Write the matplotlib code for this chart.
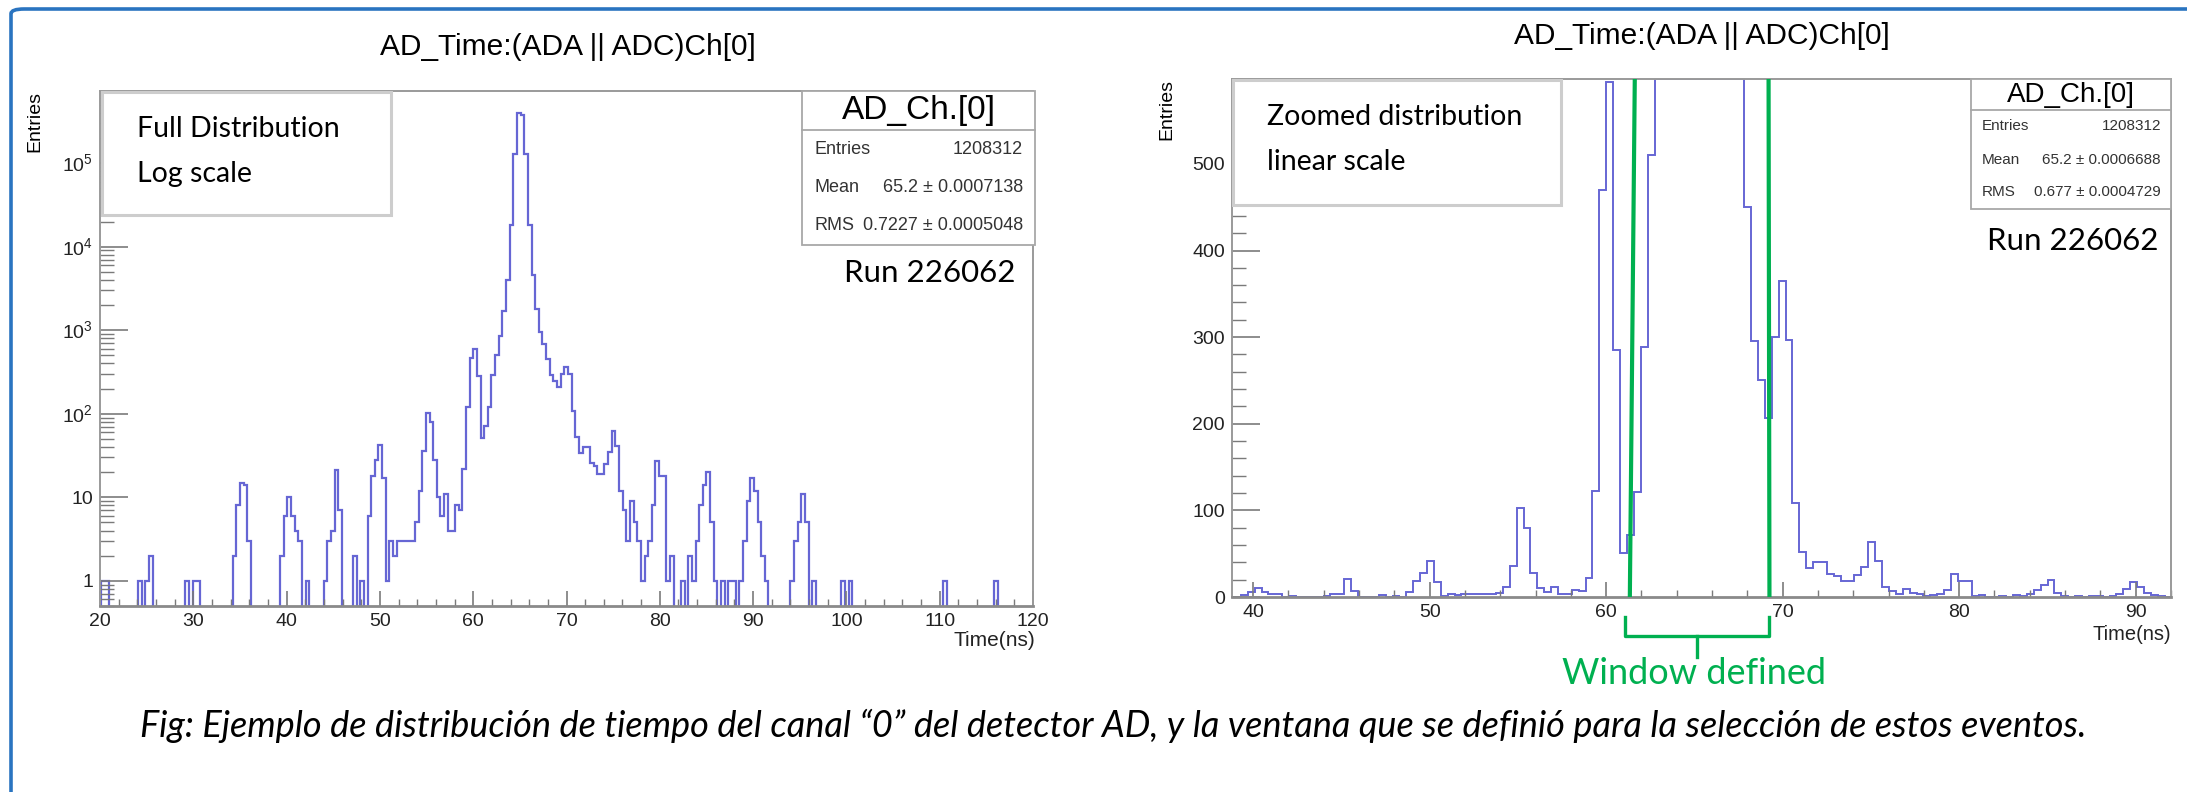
# AD channel 0 time distribution: full range (log) and zoomed window (linear)

import numpy as np
import matplotlib
matplotlib.use('Agg')
import matplotlib.pyplot as plt
from matplotlib.patches import Rectangle, FancyBboxPatch
from matplotlib.lines import Line2D
from matplotlib.ticker import FixedLocator, MultipleLocator, LogLocator, NullFormatter

plt.rcParams['font.family'] = ['Liberation Sans', 'DejaVu Sans']
plt.rcParams['mathtext.fontset'] = 'custom'
plt.rcParams['mathtext.rm'] = 'Liberation Sans'

# ---- data: AD time histogram, bin width 25/64 ns ----
bin_start = 19.77
bin_width = 0.390625
counts = [
    0, 1, 1, 0, 0, 0, 0, 0, 0, 0,
    0, 1, 0, 1, 2, 0, 0, 0, 0, 0,
    0, 0, 0, 0, 1, 0, 1, 1, 0, 0,
    0, 0, 0, 0, 0, 0, 0, 2, 8, 15,
    14, 3, 0, 0, 0, 0, 0, 0, 0, 0,
    2, 6, 10, 6, 4, 3, 0, 1, 0, 0,
    0, 0, 1, 3, 4, 21, 7, 0, 0, 0,
    2, 0, 1, 0, 6, 18, 28, 42, 17, 1,
    3, 2, 3, 3, 3, 3, 3, 5, 12, 36,
    103, 80, 28, 10, 6, 11, 4, 4, 8, 7,
    22, 122, 470, 595, 285, 51, 71, 121, 289, 510,
    850, 1700, 4000, 18000, 130000, 400000, 380000, 130000, 18000, 4600,
    1800, 940, 675, 450, 295, 250, 207, 300, 365, 297,
    108, 52, 34, 40, 40, 26, 24, 19, 19, 25,
    35, 63, 41, 12, 7, 3, 9, 5, 3, 1,
    2, 3, 8, 27, 18, 18, 1, 2, 0, 0,
    1, 0, 2, 1, 3, 8, 14, 20, 5, 1,
    0, 1, 0, 1, 1, 0, 1, 3, 9, 17,
    12, 5, 2, 1, 0, 0, 0, 0, 0, 0,
    1, 3, 5, 11, 5, 0, 1, 0, 0, 0,
    0, 0, 0, 0, 1, 0, 1, 0, 0, 0,
    0, 0, 0, 0, 0, 0, 0, 0, 0, 0,
    0, 0, 0, 0, 0, 0, 0, 0, 0, 0,
    0, 0, 1, 0, 0, 0, 0, 0, 0, 0,
    0, 0, 0, 0, 0, 0, 1, 0, 0, 0,
    0, 0, 0, 0, 0, 0, 0, 0,
]
counts = np.array(counts, dtype=float)
edges = bin_start + bin_width * np.arange(len(counts) + 1)

window_lo = [61.62, 61.34]   # slanted hand-drawn line (top, bottom)
window_hi = [69.20, 69.25]

title = 'AD_Time:(ADA || ADC)Ch[0]'
stats_left = [('Entries', '1208312'), ('Mean', '65.2 \u00b1 0.0007138'), ('RMS', '0.7227 \u00b1 0.0005048')]
stats_right = [('Entries', '1208312'), ('Mean', '65.2 \u00b1 0.0006688'), ('RMS', '0.677 \u00b1 0.0004729')]
caption = ('Fig: Ejemplo de distribución de tiempo del canal \u201c0\u201d del detector AD, '
           'y la ventana que se definió para la selección de estos eventos.')

W, H = 2187, 792
def fx(x):
    return x / W
def fy(y):
    return 1 - y / H

hist_color = '#6666d4'
frame_gray = '#9a9a9a'
green = '#00b050'
ppt_font = ['Lato', 'DejaVu Sans']

fig = plt.figure(figsize=(W / 100, H / 100), dpi=100)

# blue slide frame, only top and left edges are inside the picture
fig.add_artist(FancyBboxPatch((fx(11), fy(805)), fx(2210) - fx(11), fy(9) - fy(805),
                              boxstyle='round,pad=0,rounding_size=0.006', transform=fig.transFigure,
                              fill=False, ec='#2a74c0', lw=2.6))


def style_axes(ax):
    for sp in ax.spines.values():
        sp.set_color(frame_gray)
        sp.set_linewidth(1.4)
    ax.spines['bottom'].set_color('#8a8a8a')
    ax.spines['bottom'].set_linewidth(2.0)
    ax.tick_params(which='both', direction='in', colors='#7a7a7a', labelcolor='#222222',
                   labelsize=14, top=False, right=False)
    ax.tick_params(axis='y', which='major', length=20, width=1.2, pad=5)
    ax.tick_params(axis='y', which='minor', length=10, width=1.0)
    ax.tick_params(axis='x', which='major', length=11, width=1.2, pad=5)
    ax.tick_params(axis='x', which='minor', length=5, width=1.0)


# ---- left panel: log scale ----
ax1 = fig.add_axes([fx(100), fy(606), fx(1033) - fx(100), fy(91) - fy(606)])
ax1.set_yscale('log')
ax1.stairs(np.where(counts > 0, counts, 1e-3), edges, baseline=None, color=hist_color, lw=1.6)
ax1.set_xlim(20, 120)
ax1.set_ylim(0.5, 7.3e5)
ax1.xaxis.set_major_locator(MultipleLocator(10))
ax1.xaxis.set_minor_locator(MultipleLocator(2))
ax1.yaxis.set_major_locator(FixedLocator([1, 10, 1e2, 1e3, 1e4, 1e5]))
ax1.set_yticklabels(['1', '10', r'$10^{2}$', r'$10^{3}$', r'$10^{4}$', r'$10^{5}$'])
ax1.yaxis.set_minor_locator(LogLocator(base=10, subs=np.arange(2, 10), numticks=30))
ax1.yaxis.set_minor_formatter(NullFormatter())
style_axes(ax1)

# ---- right panel: linear zoom ----
ymax_r = 598
ax2 = fig.add_axes([fx(1232), fy(597), fx(2171) - fx(1232), fy(79) - fy(597)])
ax2.stairs(np.minimum(counts, ymax_r), edges, baseline=None, color=hist_color, lw=1.4)
ax2.set_xlim(38.8, 92.0)
ax2.set_ylim(0, ymax_r)
ax2.xaxis.set_major_locator(MultipleLocator(10))
ax2.xaxis.set_minor_locator(MultipleLocator(2))
ax2.yaxis.set_major_locator(MultipleLocator(100))
ax2.yaxis.set_minor_locator(MultipleLocator(20))
style_axes(ax2)
ax2.plot([window_lo[0], window_lo[1]], [ymax_r, 0], color=green, lw=3.0, zorder=5)
ax2.plot([window_hi[0], window_hi[1]], [ymax_r, 0], color=green, lw=3.0, zorder=5)

# ---- titles and axis labels ----
fig.text(fx(568), fy(47), title, ha='center', va='center', fontsize=21.5)
fig.text(fx(1702), fy(36), title, ha='center', va='center', fontsize=21.5)
fig.text(fx(35), fy(91), 'Entries', rotation=90, ha='center', va='top', fontsize=14)
fig.text(fx(1167), fy(79), 'Entries', rotation=90, ha='center', va='top', fontsize=14)
fig.text(fx(1035), fy(641), 'Time(ns)', ha='right', va='center', fontsize=15, color='#222222')
fig.text(fx(2171), fy(634), 'Time(ns)', ha='right', va='center', fontsize=14.5, color='#222222')


def stats_box(x0, x1, y0, ysep, y1, rows, head_size, row_size, lab_x, val_x):
    fig.add_artist(Rectangle((fx(x0), fy(y1)), fx(x1) - fx(x0), fy(y0) - fy(y1),
                             transform=fig.transFigure, fc='white', ec='#a8a8a8', lw=1.3, zorder=4))
    fig.add_artist(Line2D([fx(x0), fx(x1)], [fy(ysep), fy(ysep)], transform=fig.transFigure,
                          color='#a8a8a8', lw=1.3, zorder=5))
    fig.text(fx((x0 + x1) / 2), fy((y0 + ysep) / 2), 'AD_Ch.[0]', ha='center', va='center',
             fontsize=head_size, zorder=6)
    step = (y1 - ysep) / len(rows)
    for i, (lab, val) in enumerate(rows):
        yc = ysep + step * (i + 0.5)
        fig.text(fx(lab_x), fy(yc), lab, ha='left', va='center', fontsize=row_size, color='#333333', zorder=6)
        fig.text(fx(val_x), fy(yc), val, ha='right', va='center', fontsize=row_size, color='#333333', zorder=6)


stats_box(802, 1035, 91, 130, 245, stats_left, 24, 13, 814, 1023)
stats_box(1971, 2171, 79, 110, 209, stats_right, 20, 11, 1982, 2161)


def note_box(x0, x1, y0, y1, lines, ys, tx):
    fig.add_artist(Rectangle((fx(x0), fy(y1)), fx(x1) - fx(x0), fy(y0) - fy(y1),
                             transform=fig.transFigure, fc='white', ec='#cdcdcd', lw=2.2, zorder=4))
    for s, yc in zip(lines, ys):
        fig.text(fx(tx), fy(yc), s, ha='left', va='center', fontsize=20.5, family=ppt_font, zorder=6)


note_box(102, 391, 92, 215, ['Full Distribution', 'Log scale'], [129, 174], 137)
note_box(1233, 1561, 80, 205, ['Zoomed distribution', 'linear scale'], [117, 162], 1267)

fig.text(fx(930), fy(273), 'Run 226062', ha='center', va='center', fontsize=22.5, family=ppt_font, zorder=6)
fig.text(fx(2073), fy(241), 'Run 226062', ha='center', va='center', fontsize=22.5, family=ppt_font, zorder=6)

# bracket under the window
for xs, ys in [([1625, 1625, 1769, 1769], [617, 636, 636, 617]), ([1697, 1697], [636, 657])]:
    fig.add_artist(Line2D([fx(v) for v in xs], [fy(v) for v in ys], transform=fig.transFigure,
                          color=green, lw=2.4))
fig.text(fx(1694), fy(673), 'Window defined', ha='center', va='center', fontsize=26,
         family=ppt_font, color=green)

fig.text(fx(1113), fy(726), caption, ha='center', va='center', fontsize=26,
         family=ppt_font, style='italic')

fig.savefig('out.png', dpi=100)
